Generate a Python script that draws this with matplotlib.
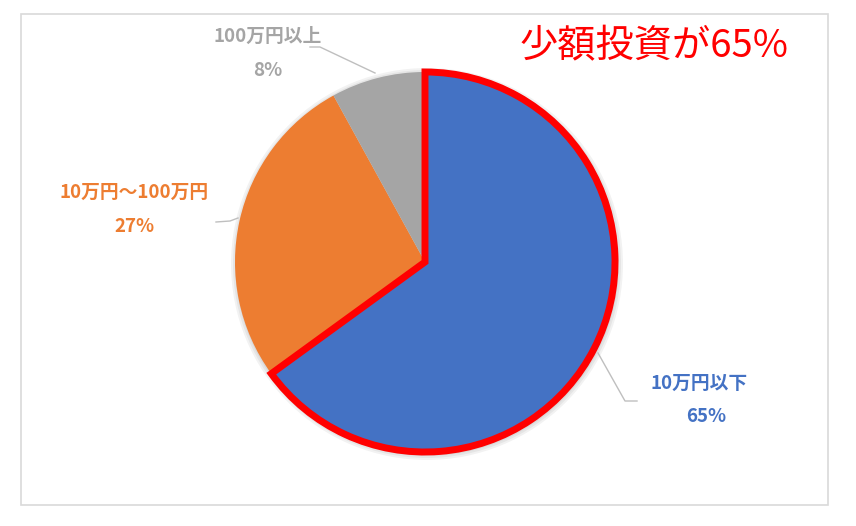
import matplotlib
matplotlib.use("Agg")
import matplotlib.pyplot as plt
from matplotlib.patches import Rectangle, Circle

categories = ["10万円以下", "10万円～100万円", "100万円以上"]
values = [65, 27, 8]
colors = ["#4472C4", "#ED7D31", "#A5A5A5"]
title_text = "少額投資が65%"

W, H = 856, 526
fig = plt.figure(figsize=(W / 100, H / 100), dpi=100)
ax = fig.add_axes([0, 0, 1, 1])
ax.set_xlim(0, W)
ax.set_ylim(0, H)
ax.set_aspect("equal")
ax.axis("off")

def Y(y):
    return H - y

fam = ["Noto Sans CJK JP", "DejaVu Sans"]

# chart border
ax.add_patch(Rectangle((21, Y(505)), 807, 491, fill=False, edgecolor="#D9D9D9", lw=1.2))

cx, cy, r = 425, 262, 190

# soft shadow
for i, a in enumerate([0.05, 0.05, 0.05]):
    ax.add_patch(Circle((cx + 2, Y(cy) - 2), r + 2 + i * 2, color="black", alpha=a, lw=0, zorder=1))

wedges, _ = ax.pie(values, colors=colors, startangle=90, counterclock=False,
                   center=(cx, Y(cy)), radius=r, frame=True,
                   wedgeprops=dict(linewidth=0))
for w in wedges:
    w.set_zorder(2)
# red outline on the largest wedge
wedges[0].set_edgecolor("#FF0000")
wedges[0].set_linewidth(5)
wedges[0].set_joinstyle("miter")
wedges[0].set_zorder(3)
ax.set_xlim(0, W)
ax.set_ylim(0, H)
ax.axis("off")

pct = [f"{v}%" for v in values]

# labels
lab_pos = [(699, 383, 706, 416), (134, 192, 134, 226), (268, 36, 268, 70)]
for i, (lx, ly, px, py) in enumerate(lab_pos):
    ax.text(lx, Y(ly), categories[i], color=colors[i], fontsize=13.5, fontweight="bold",
            ha="center", va="center", family=fam)
    ax.text(px, Y(py), pct[i], color=colors[i], fontsize=13.5, fontweight="bold",
            ha="center", va="center", family=fam)

# leader lines
leaders = [
    [(598, 353), (625, 401), (637, 401)],
    [(238, 218), (230, 221), (216, 222)],
    [(375, 73), (320, 47), (310, 47)],
]
for pts in leaders:
    ax.plot([p[0] for p in pts], [Y(p[1]) for p in pts], color="#BFBFBF", lw=1, zorder=1.5)

ax.text(654, Y(47), title_text, color="#FF0000", fontsize=27.5, ha="center", va="center",
        family=fam)

fig.savefig("out.png", dpi=100, facecolor="white")
